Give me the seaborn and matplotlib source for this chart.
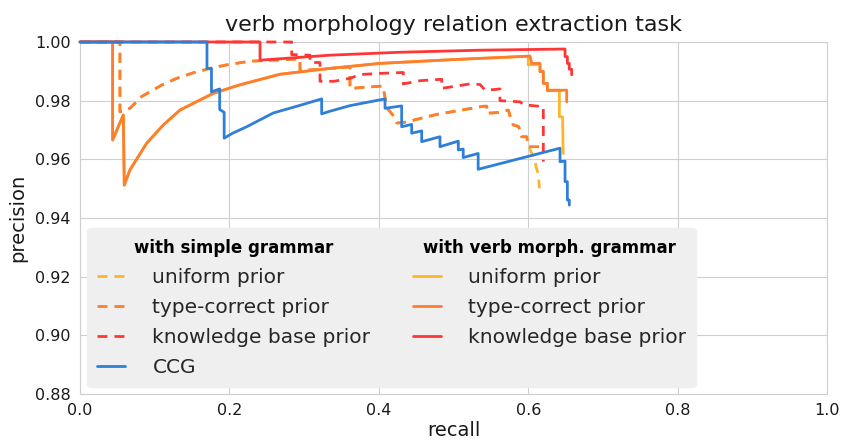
import matplotlib
matplotlib.use('Agg')
import matplotlib.pyplot as plt
from matplotlib.lines import Line2D
import seaborn as sns

# precision / recall points
ccg_recall = [0.0, 0.170, 0.170, 0.176, 0.176, 0.187, 0.187, 0.193, 0.193, 0.2035, 0.2231, 0.2588,
              0.2945, 0.3235, 0.3235, 0.3347, 0.3614, 0.4083, 0.4083, 0.4306, 0.4306, 0.444, 0.444,
              0.4574, 0.4574, 0.4819, 0.4819, 0.5064, 0.5064, 0.513, 0.513, 0.533, 0.533, 0.6426,
              0.6426, 0.6493, 0.6493, 0.6524, 0.6524, 0.655, 0.655]
ccg_precision = [1.0, 1.0, 0.991, 0.991, 0.983, 0.984, 0.977, 0.976, 0.9672, 0.9688, 0.9711, 0.9758,
                 0.9784, 0.9806, 0.9755, 0.9764, 0.9783, 0.9806, 0.9774, 0.9782, 0.9711, 0.9719, 0.9689,
                 0.9697, 0.9660, 0.9677, 0.9643, 0.9662, 0.9632, 0.9635, 0.9606, 0.9620, 0.9566, 0.9638,
                 0.9592, 0.9594, 0.9524, 0.9524, 0.9461, 0.9461, 0.9444]

# with verb morph. grammar
uni_verb_recall = [0.0, 0.0437, 0.0437, 0.0580, 0.0593, 0.0669, 0.0893, 0.1115, 0.1339, 0.1785, 0.2142,
                   0.2677, 0.3347, 0.4016, 0.5000, 0.6000, 0.6000, 0.6158, 0.6158, 0.6202, 0.6202, 0.6256,
                   0.6256, 0.6417, 0.6417, 0.6460, 0.6468]
uni_verb_precision = [1.0, 1.0, 0.9666, 0.9751, 0.9512, 0.9564, 0.9655, 0.9717, 0.9768, 0.9825, 0.9854,
                      0.9890, 0.9910, 0.9927, 0.9940, 0.9951, 0.9922, 0.9924, 0.9899, 0.9899, 0.9859, 0.9859,
                      0.9836, 0.9836, 0.9745, 0.9745, 0.9620]

tc_verb_recall = [0.0, 0.0437, 0.0437, 0.0580, 0.0593, 0.0669, 0.0893, 0.1115, 0.1339, 0.1785, 0.2142,
                  0.2677, 0.3347, 0.4016, 0.5000, 0.6024, 0.6047, 0.6158, 0.6158, 0.6202, 0.6202, 0.6256,
                  0.6256, 0.6515, 0.6515]
tc_verb_precision = [1.0, 1.0, 0.9666, 0.9751, 0.9512, 0.9564, 0.9655, 0.9717, 0.9768, 0.9825, 0.9854,
                     0.9890, 0.9910, 0.9927, 0.9940, 0.9952, 0.9927, 0.9927, 0.9899, 0.9899, 0.9859, 0.9859,
                     0.9834, 0.9836, 0.9796]

kb_verb_recall = [0.0, 0.2410, 0.2410, 0.3347, 0.4284, 0.5355, 0.6493, 0.6493, 0.6524, 0.6524, 0.6550,
                  0.6550, 0.6582, 0.6582]
kb_verb_precision = [1.0, 1.0, 0.9938, 0.9955, 0.9965, 0.9972, 0.9976, 0.9950, 0.9950, 0.9927, 0.9927,
                     0.9907, 0.9907, 0.9888]

# with simple grammar
uni_simple_recall = [0.0, 0.0535, 0.0535, 0.0669, 0.0826, 0.1093, 0.1294, 0.1517, 0.1740, 0.1964, 0.2186,
                     0.2320, 0.2945, 0.2945, 0.3213, 0.3614, 0.3614, 0.3815, 0.4016, 0.4056, 0.4083, 0.4110,
                     0.4200, 0.4243, 0.4328, 0.4775, 0.5110, 0.5400, 0.5445, 0.5445, 0.5622, 0.5734, 0.5760,
                     0.5800, 0.5870, 0.5890, 0.5913, 0.5980, 0.6004, 0.6027, 0.6085, 0.6105, 0.6136, 0.6150]
uni_simple_precision = [1.0, 1.0, 0.9762, 0.9774, 0.9814, 0.9853, 0.9876, 0.9895, 0.9910, 0.9922, 0.9931,
                        0.9935, 0.9942, 0.9903, 0.9907, 0.9915, 0.9841, 0.9846, 0.9849, 0.9849, 0.9810, 0.9775,
                        0.9747, 0.9724, 0.9725, 0.9753, 0.9768, 0.9781, 0.9781, 0.9757, 0.9760, 0.9768, 0.9745,
                        0.9717, 0.9712, 0.9700, 0.9677, 0.9677, 0.9660, 0.9632, 0.9600, 0.9575, 0.9547, 0.9501]

tc_simple_recall = [0.0, 0.0535, 0.0535, 0.0669, 0.0826, 0.1093, 0.1294, 0.1517, 0.1740, 0.1964, 0.2186,
                    0.2320, 0.2945, 0.2945, 0.3213, 0.3614, 0.3614, 0.3815, 0.4016, 0.4056, 0.4083, 0.4110,
                    0.4200, 0.4243, 0.4328, 0.4775, 0.5110, 0.5400, 0.5445, 0.5445, 0.5622, 0.5734, 0.5760,
                    0.5800, 0.5870, 0.5890, 0.5913, 0.5980, 0.6000, 0.6180]
tc_simple_precision = [1.0, 1.0, 0.9762, 0.9774, 0.9814, 0.9853, 0.9876, 0.9895, 0.9910, 0.9922, 0.9931,
                       0.9935, 0.9942, 0.9903, 0.9907, 0.9915, 0.9841, 0.9846, 0.9849, 0.9849, 0.9810, 0.9775,
                       0.9747, 0.9724, 0.9725, 0.9753, 0.9768, 0.9781, 0.9781, 0.9757, 0.9760, 0.9768, 0.9745,
                       0.9717, 0.9712, 0.9700, 0.9677, 0.9677, 0.9643, 0.9643]

kb_simple_recall = [0.0, 0.2834, 0.2834, 0.3079, 0.3079, 0.3213, 0.3213, 0.3400, 0.3614, 0.3749, 0.4016,
                    0.4328, 0.4328, 0.4551, 0.4842, 0.4842, 0.5221, 0.5355, 0.5422, 0.5555, 0.5622, 0.5622,
                    0.5890, 0.5940, 0.6180, 0.6202, 0.6202]
kb_simple_precision = [1.0, 1.0, 0.9957, 0.9955, 0.9930, 0.9930, 0.9866, 0.9866, 0.9876, 0.9889, 0.9893,
                       0.9896, 0.9857, 0.9868, 0.9873, 0.9842, 0.9857, 0.9855, 0.9836, 0.9838, 0.9840, 0.9800,
                       0.9796, 0.9786, 0.9780, 0.9780, 0.9592]

x_ticks = [0.0, 0.2, 0.4, 0.6, 0.8, 1.0]
y_ticks = [0.88, 0.90, 0.92, 0.94, 0.96, 0.98, 1.00]

headers = ['with simple grammar', 'with verb morph. grammar']
prior_labels = ['uniform prior', 'type-correct prior', 'knowledge base prior']

YELLOW = '#fdb52b'
ORANGE = '#fc7e2e'
RED = '#ff3636'
BLUE = '#2f7fd8'
DASH = (0, (3.6, 2.5))
LW = 2.0
INK = '#1a1a1a'

sns.set_style('whitegrid', {'grid.color': '#cfcfcf', 'axes.edgecolor': '#cfcfcf'})
plt.rcParams['font.family'] = ['DejaVu Sans']

fig, ax = plt.subplots(figsize=(8.41, 4.41), dpi=100)
fig.subplots_adjust(left=0.0951, right=0.9834, bottom=0.1066, top=0.9048)

series = [
    (uni_simple_recall, uni_simple_precision, YELLOW, DASH),
    (tc_simple_recall, tc_simple_precision, ORANGE, DASH),
    (kb_simple_recall, kb_simple_precision, RED, DASH),
    (uni_verb_recall, uni_verb_precision, YELLOW, '-'),
    (tc_verb_recall, tc_verb_precision, ORANGE, '-'),
    (kb_verb_recall, kb_verb_precision, RED, '-'),
    (ccg_recall, ccg_precision, BLUE, '-'),
]
for rec, prec, col, ls in series:
    sns.lineplot(x=rec, y=prec, sort=False, estimator=None, color=col, linestyle=ls,
                 linewidth=LW, ax=ax, clip_on=False, zorder=3)

ax.set_xlim(0, 1)
ax.set_ylim(0.88, 1.0)
ax.set_xticks(x_ticks)
ax.set_xticklabels([f'{t:.1f}' for t in x_ticks])
ax.set_yticks(y_ticks)
ax.set_yticklabels([f'{t:.2f}' for t in y_ticks])
ax.tick_params(labelsize=11.5, pad=3, colors=INK)
ax.set_xlabel('recall', fontsize=14, color=INK, labelpad=2)
ax.set_ylabel('precision', fontsize=14, color=INK, labelpad=6)
ax.set_title('verb morphology relation extraction task', fontsize=16, pad=8, color=INK)

blank = Line2D([], [], linestyle='none')
def proxy(col, ls):
    return Line2D([], [], color=col, linestyle=ls, linewidth=LW)

handles = [blank, proxy(YELLOW, DASH), proxy(ORANGE, DASH), proxy(RED, DASH), proxy(BLUE, '-'),
           blank, proxy(YELLOW, '-'), proxy(ORANGE, '-'), proxy(RED, '-'), blank]
labels = [' '] + prior_labels + ['CCG', ' '] + prior_labels + ['']
fs = 14.5
HL, HTP = 1.4, 1.35
leg = ax.legend(handles, labels, ncol=2, loc='lower left', fontsize=fs, handlelength=HL,
                handletextpad=HTP, columnspacing=2.1, labelspacing=0.55, borderpad=0.5,
                borderaxespad=0.35, frameon=True, facecolor='#efefef', edgecolor='#efefef',
                framealpha=1.0, fancybox=True)
leg.set_zorder(5)
texts = leg.get_texts()
for i in (0, 5):
    texts[i].set_fontsize(12)

# column headers, centred over each legend column
fig.canvas.draw()
r = fig.canvas.get_renderer()
fs_px = fs * fig.dpi / 72
W, H = fig.get_size_inches() * fig.dpi
for name, hdr, col in ((headers[0], 0, [1, 2, 3, 4]), (headers[1], 5, [6, 7, 8])):
    boxes = [texts[i].get_window_extent(r) for i in col]
    left = boxes[0].x0 - (HL + HTP) * fs_px
    right = max(b.x1 for b in boxes)
    hb = texts[hdr].get_window_extent(r)
    fig.text((left + right) / 2 / W, (hb.y0 + hb.y1) / 2 / H, name, ha='center', va='center',
             fontsize=12, fontweight='bold', color='black', zorder=10)

fig.savefig('out.png', dpi=100)
